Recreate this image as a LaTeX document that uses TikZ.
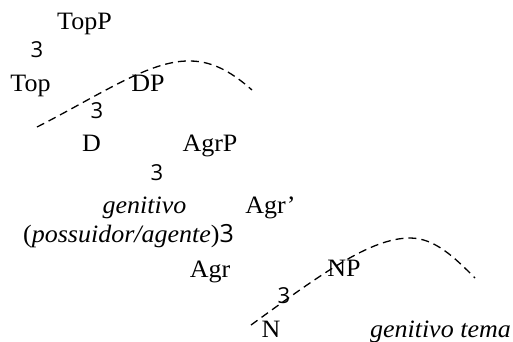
\documentclass[tikz,border=0pt]{standalone}
\usepackage{fontspec}
\setmainfont{Liberation Serif}[FakeStretch=1.04]
\newfontfamily\threefont{Open Sans}
\newcommand{\thr}{{\threefont 3}}
\tikzset{
  lbl/.style={inner sep=0pt, font=\fontsize{25}{27}\selectfont},
  three/.style={inner sep=0pt, font=\fontsize{22}{24}\threefont},
  curve/.style={line width=1.3pt, dash pattern=on 8pt off 5pt}
}
\begin{document}
\begin{tikzpicture}[x=1pt,y=-1pt]
\useasboundingbox (0,0) rectangle (513,341);
\node[lbl, anchor=base] (topp) at (84.5,29) {TopP};
\node[three] (t1) at (37,50) {3};
\node[lbl, anchor=base] (top) at (30.5,91) {Top};
\node[lbl, anchor=base] (dp) at (148,91) {DP};
\node[three] (t2) at (97,111) {3};
\node[lbl, anchor=base] (d) at (91.5,151) {D};
\node[lbl, anchor=base] (agrp) at (210,151) {AgrP};
\node[three] (t3) at (157,173) {3};
\node[lbl, anchor=base] (gen) at (144.5,213) {\textit{genitivo}};
\node[lbl, anchor=base] (agrbar) at (270.5,213) {Agr’};
\node[lbl, anchor=base west] (poss) at (23,242) {(\textit{possuidor/agente})\thr};
\node[lbl, anchor=base] (agr) at (210,277) {Agr};
\node[lbl, anchor=base] (np) at (344,276) {NP};
\node[three] (t4) at (284,296) {3};
\node[lbl, anchor=base] (n) at (271,337) {N};
\node[lbl, anchor=base east] (gt) at (511,337) {\textit{genitivo tema}};
\coordinate (c1s) at (37,127);
\coordinate (c1p) at (190,61);
\coordinate (c1e) at (252,90);
\coordinate (c2s) at (251,325);
\coordinate (c2p) at (410,238);
\coordinate (c2e) at (475,278);
\draw[curve] (c1s) .. controls (100,95) and (150,60) .. (c1p) .. controls (215,61) and (235,75) .. (c1e);
\draw[curve] (c2s) .. controls (320,275) and (370,238) .. (c2p) .. controls (435,238) and (455,258) .. (c2e);
\end{tikzpicture}
\end{document}
